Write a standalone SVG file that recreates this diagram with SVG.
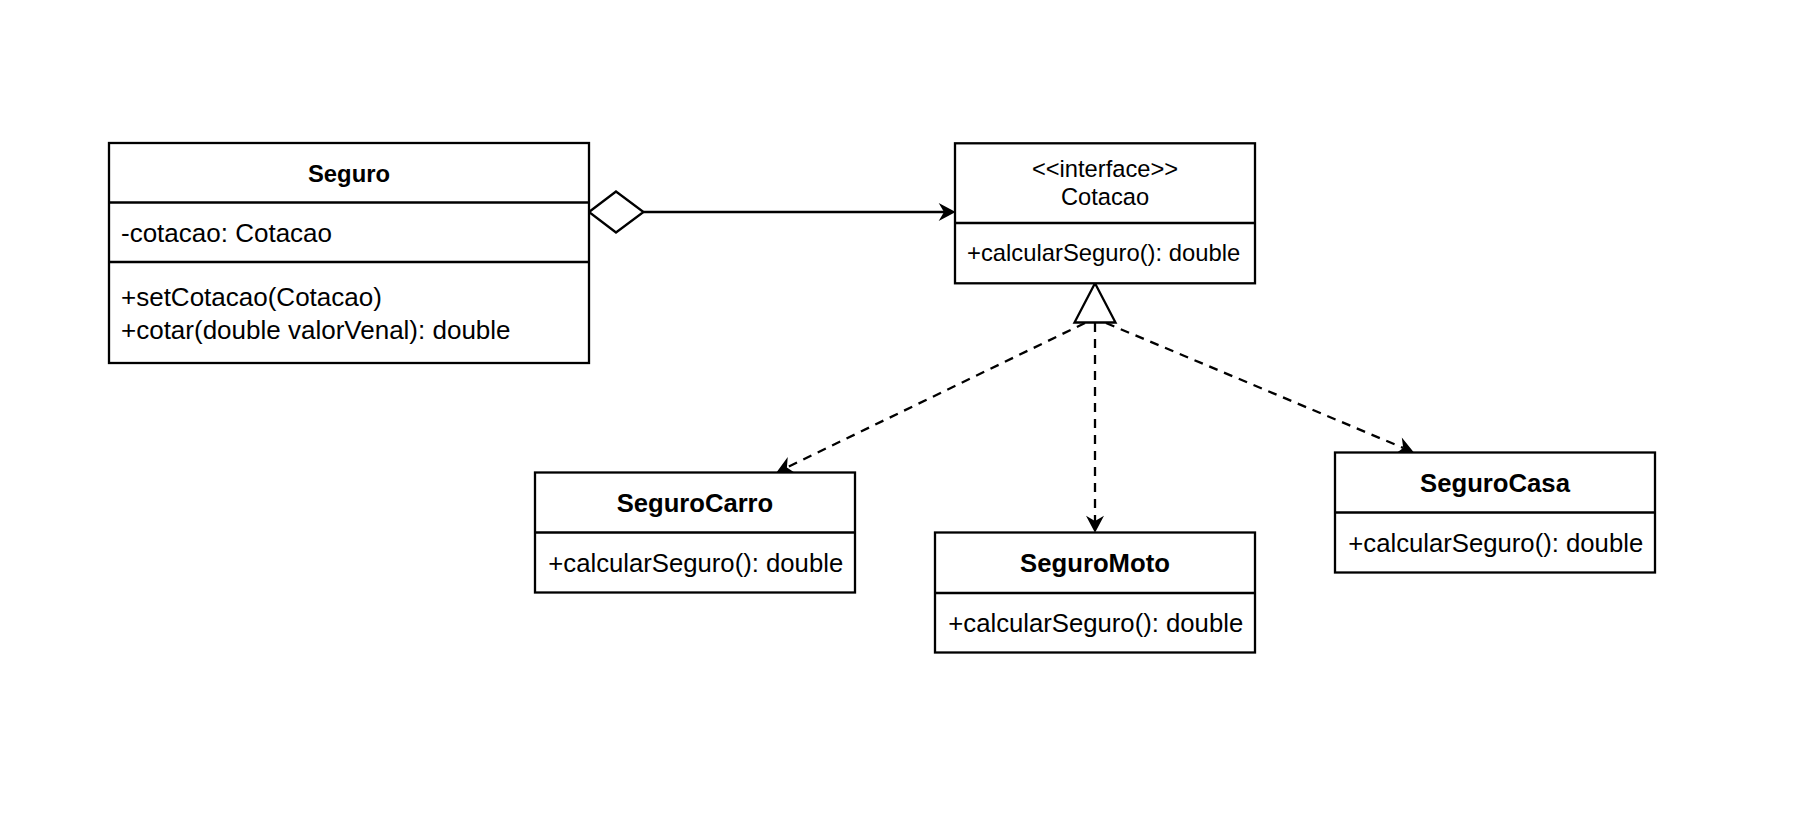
<svg xmlns="http://www.w3.org/2000/svg" width="1806" height="818" viewBox="0 0 1806 818">
<style>
.box{fill:#fff;stroke:#000;stroke-width:2.3}
.div{stroke:#000;stroke-width:2.3;fill:none}
.t{font-family:"Liberation Sans",Arial,sans-serif;fill:#000}
.b{font-weight:bold}
.c{text-anchor:middle}
.edge{stroke:#000;stroke-width:2.3;fill:none}
.dash{stroke-dasharray:9 7}
</style>
<defs>
<marker id="arrow" markerUnits="userSpaceOnUse" markerWidth="18" markerHeight="18" viewBox="0 0 16 17" refX="5" refY="8.5" orient="auto">
<path d="M0,0 L16,8.5 L0,17 L5,8.5 Z" fill="#000" stroke="none"/>
</marker>
</defs>
<rect width="1806" height="818" fill="#fff"/>
<g id="connectors">
<line class="edge" x1="643.5" y1="212" x2="944" y2="212" marker-end="url(#arrow)"/>
<polygon points="589,212 616,191.5 643.5,212 616,232.5" fill="#fff" stroke="#000" stroke-width="2.3"/>
<line class="edge dash" x1="1085" y1="323" x2="786.9" y2="467.4" marker-end="url(#arrow)"/>
<line class="edge dash" x1="1095" y1="323" x2="1095" y2="521" marker-end="url(#arrow)"/>
<line class="edge dash" x1="1106" y1="323" x2="1403.2" y2="447.9" marker-end="url(#arrow)"/>
<polygon points="1095,283.3 1115.5,322.5 1074.5,322.5" fill="#fff" stroke="#000" stroke-width="2.3"/>
</g>
<g id="Seguro">
<rect class="box" x="109" y="143" width="480" height="220"/>
<line class="div" x1="109" y1="202.5" x2="589" y2="202.5"/>
<line class="div" x1="109" y1="262" x2="589" y2="262"/>
<text class="t b c" x="349" y="182.3" font-size="23.8">Seguro</text>
<text class="t" x="121" y="242" font-size="26">-cotacao: Cotacao</text>
<text class="t" x="121" y="306" font-size="26">+setCotacao(Cotacao)</text>
<text class="t" x="121" y="339" font-size="26">+cotar(double valorVenal): double</text>
</g>
<g id="Cotacao">
<rect class="box" x="955" y="143.3" width="300" height="140"/>
<line class="div" x1="955" y1="223" x2="1255" y2="223"/>
<text class="t c" x="1105" y="176.7" font-size="23.7">&lt;&lt;interface&gt;&gt;</text>
<text class="t c" x="1105" y="205" font-size="23.7">Cotacao</text>
<text class="t" x="967" y="260.7" font-size="23.8">+calcularSeguro(): double</text>
</g>
<g id="SeguroCarro">
<rect class="box" x="535" y="472.5" width="320" height="120"/>
<line class="div" x1="535" y1="532.5" x2="855" y2="532.5"/>
<text class="t b c" x="695" y="511.7" font-size="25.6">SeguroCarro</text>
<text class="t" x="548.3" y="571.7" font-size="25.7">+calcularSeguro(): double</text>
</g>
<g id="SeguroMoto">
<rect class="box" x="935" y="532.5" width="320" height="120"/>
<line class="div" x1="935" y1="593" x2="1255" y2="593"/>
<text class="t b c" x="1095" y="571.7" font-size="25.7">SeguroMoto</text>
<text class="t" x="948.3" y="632.3" font-size="25.7">+calcularSeguro(): double</text>
</g>
<g id="SeguroCasa">
<rect class="box" x="1335" y="452.5" width="320" height="120"/>
<line class="div" x1="1335" y1="512.5" x2="1655" y2="512.5"/>
<text class="t b c" x="1495" y="491.7" font-size="25.7">SeguroCasa</text>
<text class="t" x="1348.3" y="551.7" font-size="25.7">+calcularSeguro(): double</text>
</g>
</svg>
